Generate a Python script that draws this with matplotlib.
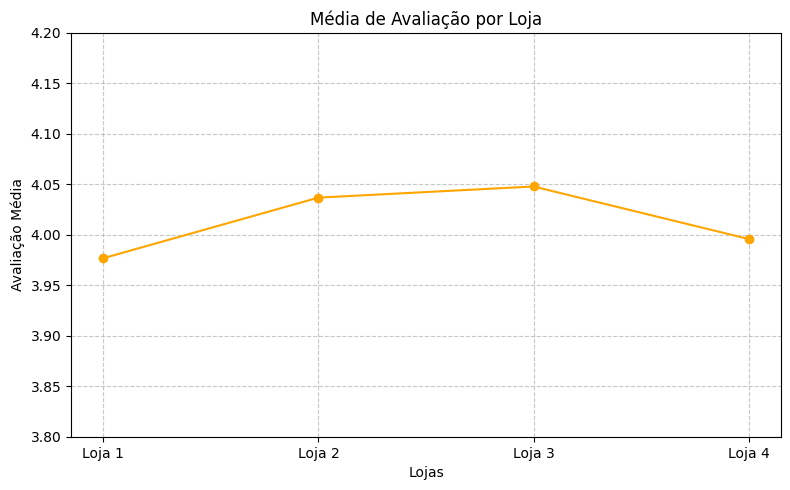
import matplotlib
matplotlib.use("Agg")
import matplotlib.pyplot as plt

lojas = ["Loja 1", "Loja 2", "Loja 3", "Loja 4"]
media_avaliacao = [3.977, 4.037, 4.048, 3.996]

fig, ax = plt.subplots(figsize=(7.9, 4.9), dpi=100)
ax.plot(lojas, media_avaliacao, marker="o", color="orange")
ax.set_title("Média de Avaliação por Loja")
ax.set_xlabel("Lojas")
ax.set_ylabel("Avaliação Média")
ax.set_ylim(3.8, 4.2)
ax.grid(True, linestyle="--", alpha=0.7)

fig.subplots_adjust(left=0.0899, right=0.9886, top=0.9327, bottom=0.1082)
plt.savefig("out.png", dpi=100)
plt.close()
